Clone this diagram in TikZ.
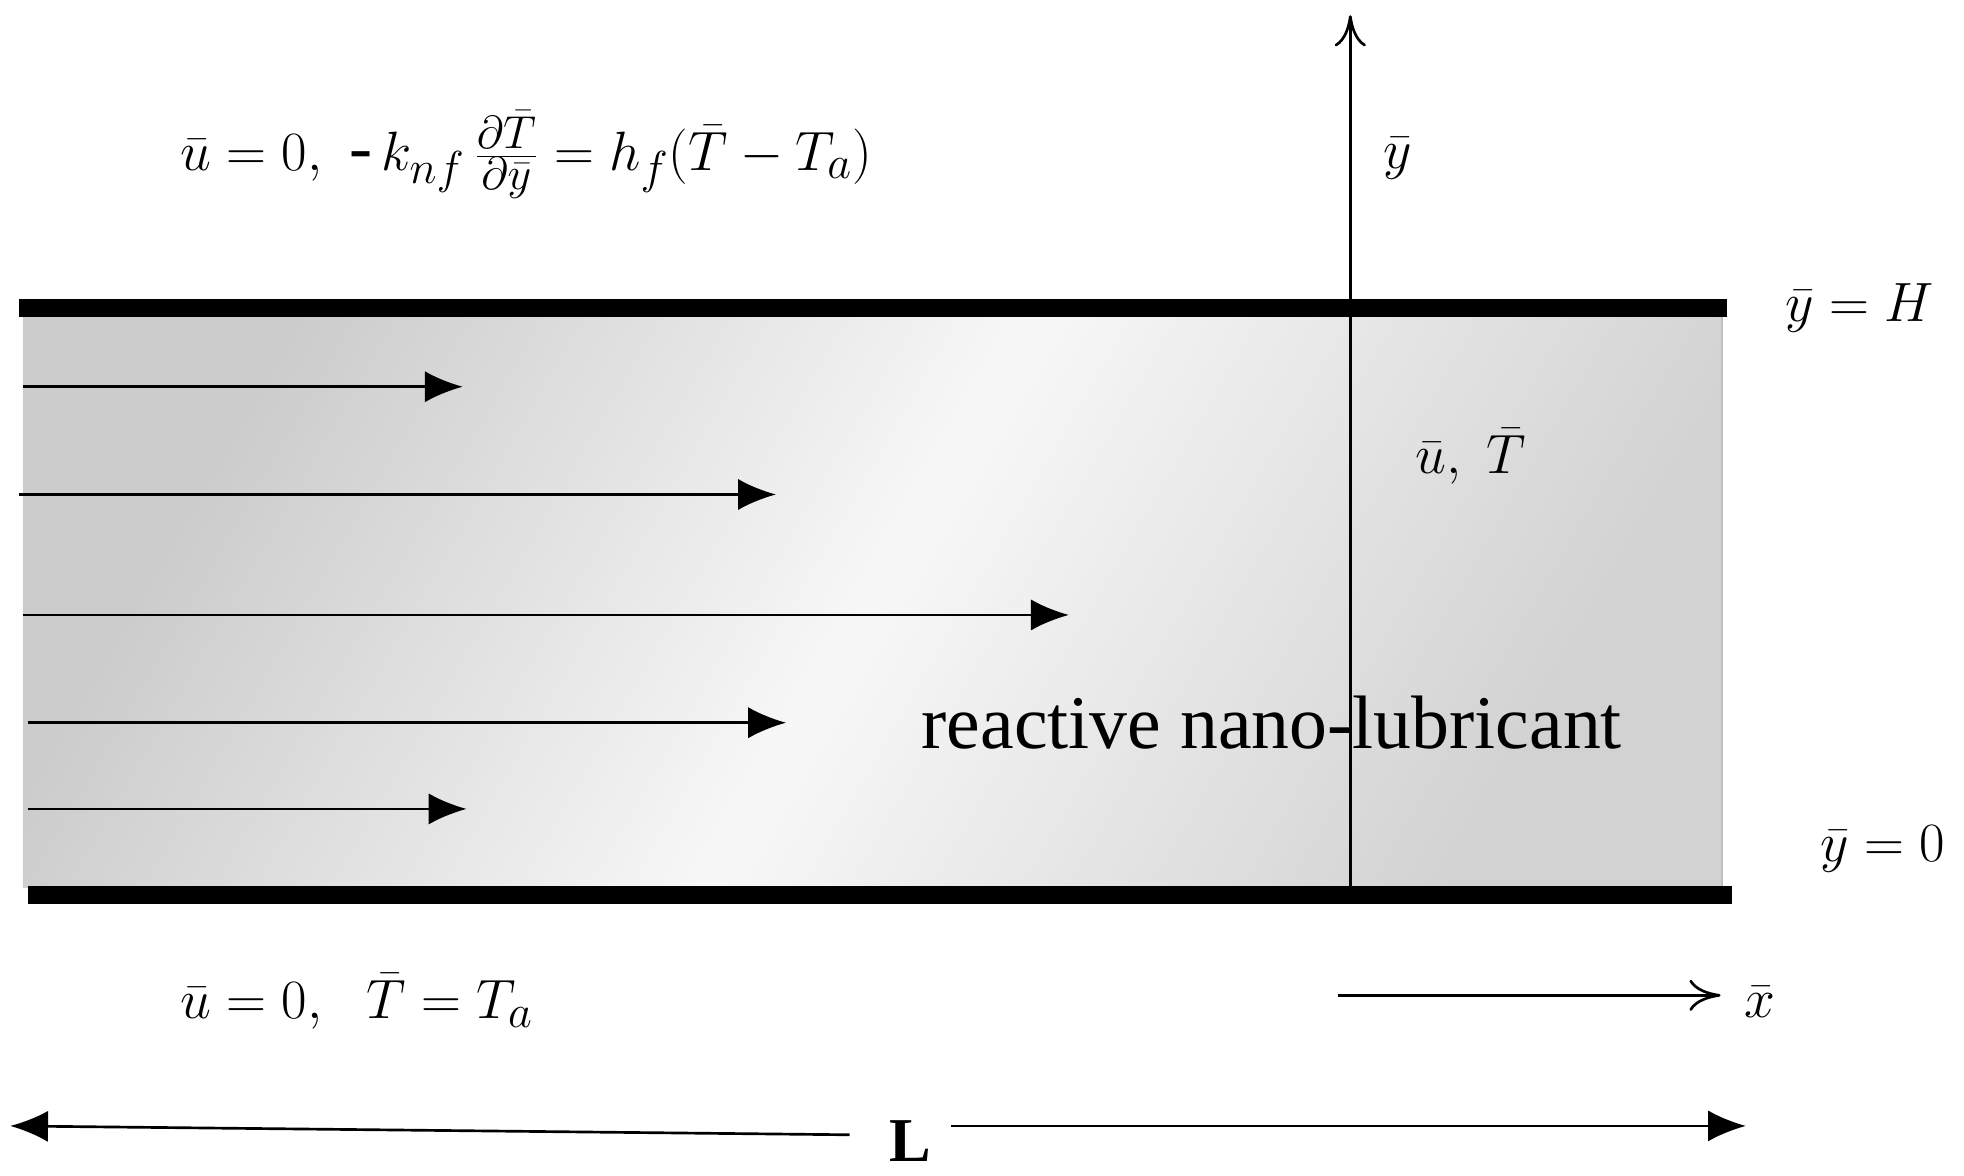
\documentclass[tikz,border=0pt]{standalone}
\usepackage{fontspec}
\setmainfont{Liberation Serif}
\usetikzlibrary{arrows.meta}
\begin{document}
\begin{tikzpicture}[x=0.02cm,y=-0.02cm,
  plate/.style={line width=8pt},
  flow/.style={line width=1.2pt,-{Latex[length=17pt,width=14pt]}},
  axis/.style={line width=1.2pt,-{To[length=14pt,width=14pt]}},
  lab/.style={font=\fontsize{28}{32}\selectfont}]
\useasboundingbox (0,0) rectangle (1549,927);
\shade[left color=gray!40,right color=gray!35,middle color=gray!6,shading angle=60] (18,250) rectangle (1358,700);
\draw[gray!50,line width=1pt] (1358,250) -- (1358,700);
\coordinate (tl) at (15,243); \coordinate (tr) at (1362,243);
\coordinate (bl) at (22,706); \coordinate (br) at (1366,706);
\draw[plate] (tl) -- (tr);
\draw[plate] (bl) -- (br);
\foreach \y/\a/\b [count=\i] in {305/18/365,390/15/612,485/18/843,570/22/620,638/22/368}{
  \coordinate (s\i) at (\a,\y); \coordinate (e\i) at (\b,\y);
  \draw[flow] (s\i) -- (e\i);}
\coordinate (yb) at (1065,700); \coordinate (yt) at (1065,12);
\draw[axis] (yb) -- (yt);
\coordinate (xb) at (1055,785); \coordinate (xe) at (1357,785);
\draw[axis] (xb) -- (xe);
\node[lab] (ylab) at (1102,125) {$\bar y$};
\node[lab] (xlab) at (1388,790) {$\bar x$};
\node[lab] (uT) at (1160,360) {$\bar u,\ \bar T$};
\node[font=\fontsize{34}{38}\selectfont] (fluid) at (1003,570) {reactive nano-lubricant};
\node[lab] (yH) at (1467,243) {$\bar y = H$};
\node[lab] (y0) at (1485,670) {$\bar y = 0$};
\node[font=\fontsize{31}{36}\selectfont,anchor=west,inner sep=0pt] (topbc) at (142,122) {$\bar u = 0,\ \mbox{-}\,k_{nf}\,\frac{\partial\bar T}{\partial\bar y} = h_f\big(\bar T - T_a\big)$};
\node[font=\fontsize{31}{36}\selectfont,anchor=west,inner sep=0pt] (botbc) at (142,790) {$\bar u = 0,\ \ \bar T = T_a$};
\node[font=\fontsize{28}{32}\selectfont\bfseries,inner sep=1pt] (L) at (718,900) {L};
\coordinate (l1) at (670,895); \coordinate (l0) at (8,888);
\coordinate (r1) at (750,888); \coordinate (r0) at (1377,888);
\draw[flow] (l1) -- (l0);
\draw[flow] (r1) -- (r0);
\end{tikzpicture}
\end{document}
